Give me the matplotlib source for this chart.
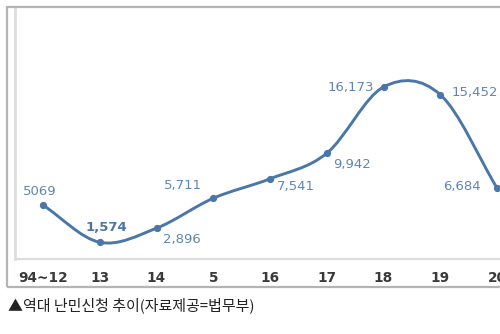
import matplotlib
matplotlib.use("Agg")
import matplotlib.pyplot as plt
from matplotlib.path import Path
from matplotlib.patches import PathPatch, Rectangle

plt.rcParams['font.family'] = ['Noto Sans CJK KR', 'DejaVu Sans']

# 연도별 난민신청 건수
years = ['94~12', '13', '14', '5', '16', '17', '18', '19', '20']
counts = [5069, 1574, 2896, 5711, 7541, 9942, 16173, 15452, 6684]
count_labels = ['5069', '1,574', '2,896', '5,711', '7,541', '9,942', '16,173', '15,452', '6,684']

# 라벨 위치 (픽셀 오프셋)
label_offsets = [(-3, 14), (7, 15), (25, -11), (-30, 13), (26, -8),
                 (25, -11), (-33, -1), (35, 2), (-35, 1)]

line_color = '#4a76a8'
text_color = '#5f86b3'


def smooth_path(xs, ys):
    '''Catmull-Rom 곡선을 베지어 경로로 변환'''
    n = len(xs)
    tx, ty = [], []
    for i in range(n):
        a = max(i - 1, 0)
        b = min(i + 1, n - 1)
        k = 2.0 if 0 < i < n - 1 else 1.0
        tx.append((xs[b] - xs[a]) / k)
        ty.append((ys[b] - ys[a]) / k)
    verts = [(xs[0], ys[0])]
    codes = [Path.MOVETO]
    for i in range(n - 1):
        verts += [(xs[i] + tx[i] / 3, ys[i] + ty[i] / 3),
                  (xs[i + 1] - tx[i + 1] / 3, ys[i + 1] - ty[i + 1] / 3),
                  (xs[i + 1], ys[i + 1])]
        codes += [Path.CURVE4] * 3
    return Path(verts, codes)


fig = plt.figure(figsize=(5, 3.34), dpi=100)
W, H = 500, 334

# 바깥 테두리
fig.add_artist(Rectangle((7 / W, 1 - 287 / H), 1.2, (287 - 7) / H,
                         transform=fig.transFigure, fill=False,
                         edgecolor='#b4b4b4', lw=1.6))

ax = fig.add_axes([15 / W, 1 - 259 / H, 520 / W, (259 - 8) / H])
xs = list(range(len(years)))
ax.add_patch(PathPatch(smooth_path(xs, counts), fill=False,
                       edgecolor=line_color, lw=2.1, capstyle='round'))
ax.plot(xs, counts, 'o', color=line_color, markersize=4.2)

for x, y, lab, off in zip(xs, counts, count_labels, label_offsets):
    bold = lab == '1,574'
    ax.annotate(lab, (x, y), xytext=off, textcoords='offset pixels',
                ha='center', va='center', fontsize=9.5, family='DejaVu Sans',
                color='#4d74a3' if bold else text_color,
                fontweight='bold' if bold else 'normal')

ax.set_xlim(-(43 - 15) / 56.75, -(43 - 15) / 56.75 + 520 / 56.75)
ax.set_ylim(0, 23600)
ax.set_yticks([])
ax.set_xticks(xs)
ax.set_xticklabels(years, fontsize=9.8, fontweight='bold', color='#3a3a3a',
                   family='DejaVu Sans')
ax.tick_params(axis='x', length=0, pad=9)
for s in ['top', 'right']:
    ax.spines[s].set_visible(False)
ax.spines['left'].set_color('#dedede')
ax.spines['left'].set_linewidth(2)
ax.spines['bottom'].set_color('#dcdcdc')
ax.spines['bottom'].set_linewidth(1.5)

fig.text(8 / W, 1 - 305 / H, '▲역대 난민신청 추이(자료제공=법무부)',
         fontsize=10.8, color='#222222', va='center', ha='left')

fig.savefig('out.png', dpi=100)
